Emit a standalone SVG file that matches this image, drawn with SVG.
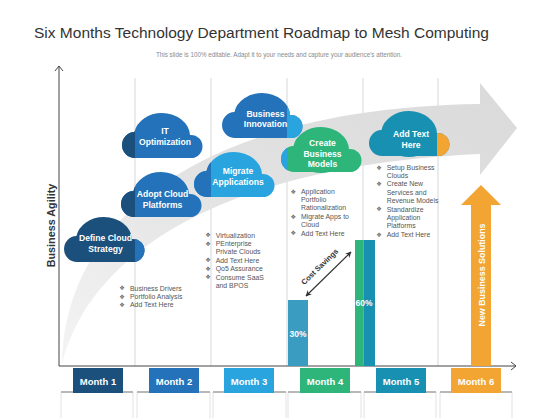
<svg xmlns="http://www.w3.org/2000/svg" width="560" height="420" viewBox="0 0 560 420">
<style>
.title{font-family:"Liberation Sans",Arial,sans-serif;font-size:15.5px;fill:#333}
.sub{font-family:"Liberation Sans",Arial,sans-serif;font-size:6.4px;fill:#8a8a8a}
.ct{font-family:"Liberation Sans",Arial,sans-serif;font-size:8.6px;font-weight:bold;fill:#fff;text-anchor:middle}
.mt{font-family:"Liberation Sans",Arial,sans-serif;font-size:9.5px;font-weight:bold;fill:#fff;text-anchor:middle}
.li{font-family:"Liberation Sans",Arial,sans-serif;font-size:6.9px;fill:#555}
.bu{font-family:"DejaVu Sans",sans-serif;font-size:6.2px;fill:#666;text-anchor:middle}
.ax{stroke:#444;stroke-width:1;fill:none}
.grid{stroke:#e4e4e4;stroke-width:1.5}
.pan{stroke:#e2e2e2;stroke-width:1;fill:none}
.pant{stroke:#b8b8b8;stroke-width:2}
.lbl{font-family:"Liberation Sans",Arial,sans-serif;font-weight:bold;text-anchor:middle}
</style>
<defs>
<clipPath id="cl" clipPathUnits="userSpaceOnUse">
<ellipse cx="40" cy="23" rx="28" ry="23"/>
<circle cx="13" cy="32" r="13"/>
<circle cx="69" cy="33.5" r="11.5"/>
<rect x="13" y="30" width="56" height="15"/>
</clipPath>
<linearGradient id="bandg" x1="0" y1="1" x2="1" y2="0">
<stop offset="0" stop-color="#f4f4f4"/>
<stop offset="0.5" stop-color="#e2e2e2"/>
<stop offset="1" stop-color="#dadada"/>
</linearGradient>
<marker id="ah" viewBox="0 0 10 10" refX="9" refY="5" markerWidth="5" markerHeight="5" orient="auto-start-reverse">
<path d="M0,0 L10,5 L0,10 L3,5 Z" fill="#333"/>
</marker>
</defs>
<rect width="560" height="420" fill="#fff"/>
<text class="title" x="34" y="38" textLength="455" lengthAdjust="spacingAndGlyphs">Six Months Technology Department Roadmap to Mesh Computing</text>
<text class="sub" x="156" y="57" textLength="246" lengthAdjust="spacingAndGlyphs">This slide is 100% editable.  Adapt it to your needs and capture your audience's attention.</text>

<g id="grid">
<line class="grid" x1="135" y1="78" x2="135" y2="366"/>
<line class="grid" x1="211" y1="78" x2="211" y2="366"/>
<line class="grid" x1="287" y1="78" x2="287" y2="366"/>
<line class="grid" x1="363" y1="78" x2="363" y2="366"/>
<line class="grid" x1="438" y1="78" x2="438" y2="366"/>
</g>

<g id="band">
<path d="M62,364 C64,220 200,108 480,104 L480,83 L517,128 L480,175 L480,154 C230,165 90,250 62,364 Z" fill="url(#bandg)"/>
</g>

<g id="axes">
<polyline class="ax" points="59,66 59,366 516,366"/>
<polyline class="ax" points="55,71 59,66 63,71"/>
<polyline class="ax" points="511,362 516,366 511,370"/>
<text class="lbl" transform="translate(54.5,225.5) rotate(-90)" font-size="10.8" fill="#333">Business Agility</text>
</g>

<g id="bars">
<rect x="288" y="300" width="20" height="66" fill="#3a9cc0"/>
<text class="lbl" x="298" y="336.5" font-size="8.5" fill="#fff">30%</text>
<rect x="355" y="240" width="8.5" height="126" fill="#2db57a"/>
<rect x="363.5" y="240" width="11.5" height="126" fill="#1790b1"/>
<text class="lbl" x="364" y="306" font-size="8.5" fill="#fff">60%</text>
</g>

<g id="connectors">
<line x1="306" y1="296" x2="351" y2="252" stroke="#333" stroke-width="1.2" marker-start="url(#ah)" marker-end="url(#ah)"/>
<text class="lbl" transform="translate(321.5,268.5) rotate(-44)" font-size="7.6" fill="#333">Cost Savings</text>
</g>

<g id="new-solutions">
<polygon points="471,366 471,205 461,205 481,185 501,205 491,205 491,366" fill="#f2a533"/>
<text class="lbl" transform="translate(484.5,275) rotate(-90)" font-size="8.9" fill="#fff">New Business Solutions</text>
</g>

<g id="n-define" transform="translate(64,217)">
<g clip-path="url(#cl)"><rect width="81" height="45" fill="#1b4f7c"/><rect x="71" width="10" height="45" fill="#2372ba"/></g>
<text class="ct" x="41.5" y="24">Define Cloud</text><text class="ct" x="41.5" y="35">Strategy</text>
</g>
<g id="n-adopt" transform="translate(121,172)">
<g clip-path="url(#cl)"><rect width="81" height="45" fill="#2372ba"/><rect width="14" height="45" fill="#1b4f7c"/></g>
<text class="ct" x="41.5" y="25">Adopt Cloud</text><text class="ct" x="41.5" y="36">Platforms</text>
</g>
<g id="n-it" transform="translate(122,113)">
<g clip-path="url(#cl)"><rect width="81" height="45" fill="#2372ba"/><rect width="13" height="45" fill="#1b4f7c"/></g>
<text class="ct" x="43" y="21">IT</text><text class="ct" x="43" y="32">Optimization</text>
</g>
<g id="n-migrate" transform="translate(194,152)">
<g clip-path="url(#cl)"><rect width="81" height="45" fill="#29a4de"/><rect width="17" height="45" fill="#2372ba"/></g>
<text class="ct" x="44" y="22">Migrate</text><text class="ct" x="44" y="33">Applications</text>
</g>
<g id="n-innovation" transform="translate(222,93)">
<g clip-path="url(#cl)"><rect width="81" height="45" fill="#2372ba"/><rect x="65" width="16" height="45" fill="#29a4de"/></g>
<text class="ct" x="43.5" y="24">Business</text><text class="ct" x="43.5" y="34">Innovation</text>
</g>
<g id="n-create" transform="translate(281,127)">
<g clip-path="url(#cl)"><rect width="81" height="46" fill="#2db57a"/><rect width="6" height="46" fill="#29a4de"/></g>
<text class="ct" x="41.5" y="19">Create</text><text class="ct" x="41.5" y="29.5">Business</text><text class="ct" x="41.5" y="40">Models</text>
</g>
<g id="n-addtext" transform="translate(369,111)">
<g clip-path="url(#cl)"><rect width="81" height="46" fill="#1790b1"/><rect x="68" width="13" height="46" fill="#f2a533"/></g>
<text class="ct" x="42" y="26">Add  Text</text><text class="ct" x="42" y="37">Here</text>
</g>

<g id="list-m2">
<text class="bu" x="122" y="290.4">❖</text><text class="li" x="130" y="290.6">Business Drivers</text>
<text class="bu" x="122" y="298.8">❖</text><text class="li" x="130" y="299">Portfolio Analysis</text>
<text class="bu" x="122" y="307.1">❖</text><text class="li" x="130" y="307.3">Add Text Here</text>
</g>
<g id="list-m3">
<text class="bu" x="208" y="237.4">❖</text><text class="li" x="215.7" y="237.6">Virtualization</text>
<text class="bu" x="208" y="245.8">❖</text><text class="li" x="215.7" y="246">PEnterprise</text>
<text class="li" x="215.7" y="254">Private Clouds</text>
<text class="bu" x="208" y="262.4">❖</text><text class="li" x="215.7" y="262.6">Add Text Here</text>
<text class="bu" x="208" y="270.8">❖</text><text class="li" x="215.7" y="271">Qo5 Assurance</text>
<text class="bu" x="208" y="279.4">❖</text><text class="li" x="215.7" y="279.6">Consume SaaS</text>
<text class="li" x="215.7" y="288">and BPOS</text>
</g>
<g id="list-m4">
<text class="bu" x="293.3" y="193.8">❖</text><text class="li" x="301" y="194">Application</text>
<text class="li" x="301" y="202">Portfolio</text>
<text class="li" x="301" y="210.3">Rationalization</text>
<text class="bu" x="293.3" y="218.8">❖</text><text class="li" x="301" y="219">Migrate Apps to</text>
<text class="li" x="301" y="227">Cloud</text>
<text class="bu" x="293.3" y="235.4">❖</text><text class="li" x="301" y="235.6">Add Text Here</text>
</g>
<g id="list-m5">
<text class="bu" x="379" y="169.8">❖</text><text class="li" x="386.7" y="170">Setup Business</text>
<text class="li" x="386.7" y="178">Clouds</text>
<text class="bu" x="379" y="186.1">❖</text><text class="li" x="386.7" y="186.3">Create New</text>
<text class="li" x="386.7" y="195">Services and</text>
<text class="li" x="386.7" y="203">Revenue Models</text>
<text class="bu" x="379" y="211.4">❖</text><text class="li" x="386.7" y="211.6">Standardize</text>
<text class="li" x="386.7" y="220">Application</text>
<text class="li" x="386.7" y="228">Platforms</text>
<text class="bu" x="379" y="236.8">❖</text><text class="li" x="386.7" y="237">Add Text Here</text>
</g>

<g id="panels">
<path class="pan" d="M61,392 V418 M133,392 V418 M137,392 V418 M210,392 V418 M213,392 V418 M286,392 V418 M288,392 V418 M361,392 V418 M364,392 V418 M436,392 V418 M440,392 V418 M512,392 V418"/>
<path class="pant" d="M61,392 H133 M137,392 H210 M213,392 H286 M288,392 H361 M364,392 H436 M440,392 H512"/>
</g>

<g id="month-1"><rect x="73" y="368" width="50" height="25" fill="#1b4f7c"/><text class="mt" x="98" y="385">Month 1</text></g>
<g id="month-2"><rect x="149" y="368" width="50" height="25" fill="#2372ba"/><text class="mt" x="174" y="385">Month 2</text></g>
<g id="month-3"><rect x="224" y="368" width="50" height="25" fill="#29a4de"/><text class="mt" x="249" y="385">Month 3</text></g>
<g id="month-4"><rect x="300" y="368" width="50" height="25" fill="#2db57a"/><text class="mt" x="325" y="385">Month 4</text></g>
<g id="month-5"><rect x="376" y="368" width="50" height="25" fill="#1790b1"/><text class="mt" x="401" y="385">Month 5</text></g>
<g id="month-6"><rect x="451" y="368" width="50" height="25" fill="#f2a533"/><text class="mt" x="476" y="385">Month 6</text></g>
</svg>
